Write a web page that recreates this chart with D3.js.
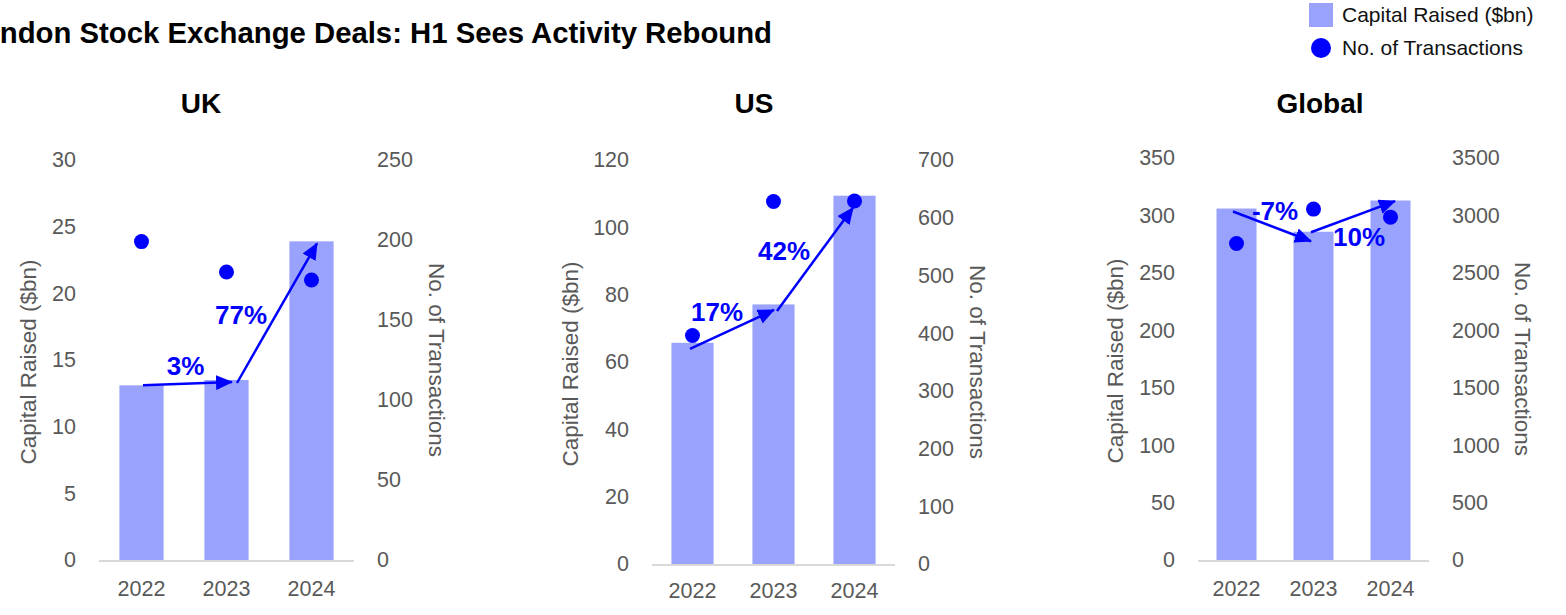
<!DOCTYPE html>
<html>
<head>
<meta charset="utf-8">
<script src="https://cdn.jsdelivr.net/npm/d3@7"></script>
<style>
  body { margin: 0; background: #fff; }
  svg { display: block; font-family: "Liberation Sans", Arial, sans-serif; }
</style>
</head>
<body>
<div id="chart"></div>
<script>
// data
const years = ["2022", "2023", "2024"];
const regions = ["UK", "US", "Global"];

const capitalUK = [13.1, 13.5, 23.9];
const capitalUS = [65.7, 77.1, 109.4];
const capitalGlobal = [306, 285.8, 313];

const dealsUK = [199, 180, 175];
const dealsUS = [396, 628, 629];
const dealsGlobal = [2755, 3055, 2985];

const leftMax = [30, 120, 350];
const leftStep = [5, 20, 50];
const rightMax = [250, 700, 3500];
const rightStep = [50, 100, 500];

/* =========================================================
   layout: three dual-axis panels (bars + dots + growth arrows)
   ========================================================= */
(function() {
  const W = 1566, H = 615;
  const BLUE = "#0000ff", BAR = "#99a3fd", GREY = "#595959";

  const capital = [capitalUK, capitalUS, capitalGlobal];
  const deals = [dealsUK, dealsUS, dealsGlobal];

  // pixel frames per panel
  const frames = [
    { x0: 99, x1: 354, y0: 560, y1: 160, titleX: 201, lTitle: 28, rTitle: 437, xPad: 21,
      arrows: [{ s: [1.5, 0], e: [5.5, 2], l: [-2, -18] }, { s: [10.5, 3], e: [5.5, 2], l: [-36, 2] }] },
    { x0: 652, x1: 895, y0: 564, y1: 160, titleX: 754, lTitle: 570, rTitle: 978, xPad: 19,
      arrows: [{ s: [-2.5, 6], e: [0.5, 5.5], l: [-15, -17] }, { s: [3.5, 6.5], e: [-1.5, 12], l: [-31, -8] }] },
    { x0: 1198, x1: 1429, y0: 560, y1: 158, titleX: 1320, lTitle: 1115, rTitle: 1523, xPad: 21,
      arrows: [{ s: [-3.5, 3], e: [-2.5, 9.5], l: [3, -15] }, { s: [-2.5, 0.5], e: [4.5, 0.7], l: [6, 20] }] }
  ];

  const svg = d3.select("#chart")
    .append("svg")
    .attr("width", W)
    .attr("height", H);

  svg.append("defs").append("marker")
    .attr("id", "head")
    .attr("markerUnits", "userSpaceOnUse")
    .attr("viewBox", "0 0 17 15")
    .attr("markerWidth", 17)
    .attr("markerHeight", 15)
    .attr("refX", 16)
    .attr("refY", 7.5)
    .attr("orient", "auto")
    .append("path")
    .attr("d", "M0,0 L17,7.5 L0,15 Z")
    .attr("fill", BLUE);

  // Main title (clipped at the left, as in the source)
  svg.append("text")
    .attr("x", -36)
    .attr("y", 43)
    .style("font-size", "29.3px")
    .style("font-weight", "700")
    .style("fill", "#000")
    .text("London Stock Exchange Deals: H1 Sees Activity Rebound");

  // Legend
  const legendG = svg.append("g");
  legendG.append("rect")
    .attr("x", 1309).attr("y", 3)
    .attr("width", 24).attr("height", 24)
    .attr("fill", BAR);
  legendG.append("circle")
    .attr("cx", 1321).attr("cy", 48).attr("r", 10)
    .attr("fill", BLUE);
  legendG.selectAll(".leg-text")
    .data(["Capital Raised ($bn)", "No. of Transactions"])
    .enter().append("text")
    .attr("class", "leg-text")
    .attr("x", 1342)
    .attr("y", (d, i) => 15 + i * 33)
    .attr("dy", "0.35em")
    .style("font-size", "21px")
    .style("fill", "#111")
    .text(d => d);

  regions.forEach((name, p) => {
    const f = frames[p];
    const g = svg.append("g");

    const x = d3.scaleBand()
      .domain(years)
      .range([f.x0, f.x1])
      .paddingInner(0.48)
      .paddingOuter(0.24);
    const yL = d3.scaleLinear().domain([0, leftMax[p]]).range([f.y0, f.y1]);
    const yR = d3.scaleLinear().domain([0, rightMax[p]]).range([f.y0, f.y1]);

    const rows = years.map((yr, i) => ({ year: yr, cap: capital[p][i], n: deals[p][i] }));

    // Panel title
    g.append("text")
      .attr("x", f.titleX)
      .attr("y", 103)
      .attr("text-anchor", "middle")
      .attr("dy", "0.35em")
      .style("font-size", "28px")
      .style("font-weight", "700")
      .style("fill", "#000")
      .text(name);

    // Axes, no lines, just labels
    const leftAxis = g.append("g")
      .attr("transform", `translate(${f.x0},0)`)
      .call(d3.axisLeft(yL)
        .tickValues(d3.range(0, leftMax[p] + 1e-9, leftStep[p]))
        .tickFormat(d3.format("d"))
        .tickSize(0).tickPadding(23));
    leftAxis.select(".domain").remove();

    const rightAxis = g.append("g")
      .attr("transform", `translate(${f.x1},0)`)
      .call(d3.axisRight(yR)
        .tickValues(d3.range(0, rightMax[p] + 1e-9, rightStep[p]))
        .tickFormat(d3.format("d"))
        .tickSize(0).tickPadding(23));
    rightAxis.select(".domain").remove();

    const xAxis = g.append("g")
      .attr("transform", `translate(0,${f.y0})`)
      .call(d3.axisBottom(x).tickSize(0).tickPadding(f.xPad));
    xAxis.select(".domain").remove();

    g.selectAll(".tick text")
      .style("font-family", "'Liberation Sans', Arial, sans-serif")
      .style("font-size", "21.5px")
      .style("fill", GREY);

    // Axis titles
    g.append("text")
      .attr("transform", `translate(${f.lTitle},${(f.y0 + f.y1) / 2 + 2}) rotate(-90)`)
      .attr("text-anchor", "middle")
      .attr("dy", "0.35em")
      .style("font-size", "22.5px")
      .style("fill", GREY)
      .text("Capital Raised ($bn)");

    g.append("text")
      .attr("transform", `translate(${f.rTitle},${(f.y0 + f.y1) / 2}) rotate(90)`)
      .attr("text-anchor", "middle")
      .attr("dy", "0.35em")
      .style("font-size", "22.5px")
      .style("fill", GREY)
      .text("No. of Transactions");

    // Bars
    g.selectAll(".bar")
      .data(rows)
      .enter().append("rect")
      .attr("class", "bar")
      .attr("x", d => x(d.year))
      .attr("y", d => yL(d.cap))
      .attr("width", x.bandwidth())
      .attr("height", d => yL(0) - yL(d.cap))
      .attr("fill", BAR);

    // Baseline
    g.append("line")
      .attr("x1", f.x0).attr("x2", f.x1)
      .attr("y1", yL(0) + 1).attr("y2", yL(0) + 1)
      .attr("stroke", "#d9d9d9")
      .attr("stroke-width", 2);

    // Dots
    g.selectAll(".dot")
      .data(rows)
      .enter().append("circle")
      .attr("class", "dot")
      .attr("cx", d => x(d.year) + x.bandwidth() / 2)
      .attr("cy", d => yR(d.n))
      .attr("r", 7.5)
      .attr("fill", BLUE);

    // Growth arrows between consecutive years
    const cx = yr => x(yr) + x.bandwidth() / 2;
    f.arrows.forEach((a, i) => {
      const from = rows[i], to = rows[i + 1];
      const sx = cx(from.year) + a.s[0], sy = yL(from.cap) + a.s[1];
      const ex = cx(to.year) + a.e[0], ey = yL(to.cap) + a.e[1];
      g.append("line")
        .attr("x1", sx).attr("y1", sy)
        .attr("x2", ex).attr("y2", ey)
        .attr("stroke", BLUE)
        .attr("stroke-width", 2.5)
        .attr("marker-end", "url(#head)");

      const pct = Math.round((to.cap / from.cap - 1) * 100);
      g.append("text")
        .attr("x", (sx + ex) / 2 + a.l[0])
        .attr("y", (sy + ey) / 2 + a.l[1])
        .attr("text-anchor", "middle")
        .attr("dy", "0.35em")
        .style("font-size", "26px")
        .style("font-weight", "700")
        .style("fill", BLUE)
        .text(pct + "%");
    });
  });
})();
</script>
</body>
</html>
